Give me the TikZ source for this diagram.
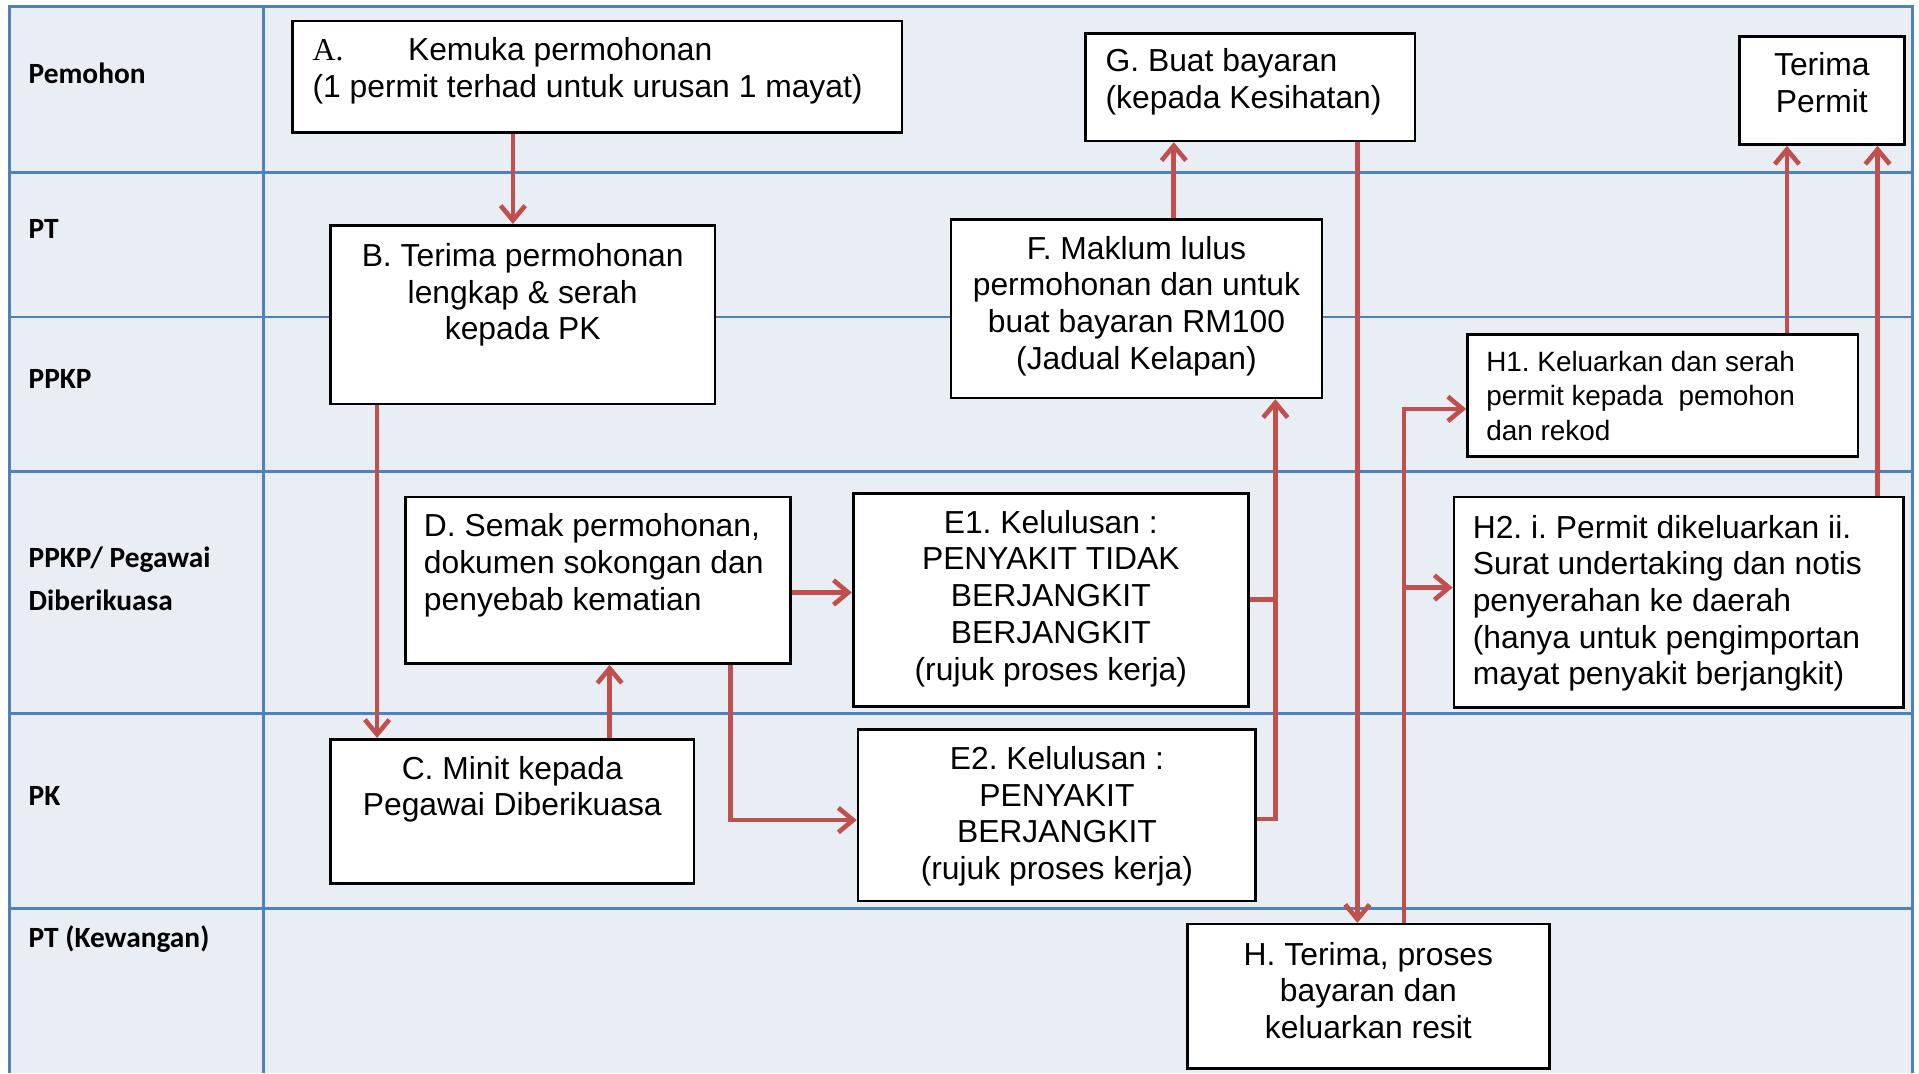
\documentclass[tikz,border=0pt]{standalone}
\usepackage{fontspec}
\setmainfont{Liberation Sans}
\newfontfamily\lanefont{Carlito}
\newfontfamily\letterfont{Liberation Serif}
\usepackage{tikz}
\usetikzlibrary{positioning,arrows.meta}
\frenchspacing

\definecolor{lanebg}{HTML}{E9EDF4}
\definecolor{laneline}{HTML}{4F81BD}
\definecolor{flowred}{HTML}{C0504D}

\begin{document}
\begin{tikzpicture}[
    x=1pt, y=-1pt,
    >={Straight Barb[length=6pt,width=10pt]},
    box/.style={rectangle, draw=black, line width=1.1pt, fill=white, inner sep=0pt, anchor=north west},
    txt/.style={inner sep=0pt, font=\fontsize{13pt}{15pt}\selectfont},
    ctxt/.style={txt, align=center},
    ltxt/.style={txt, align=left},
    lane/.style={anchor=west, inner sep=0pt, align=left,
        font=\lanefont\bfseries\fontsize{12pt}{17.5pt}\selectfont},
    flow/.style={draw=flowred, line width=1.9pt, ->},
    link/.style={draw=flowred, line width=1.9pt}
]
\useasboundingbox (0,0) rectangle (784,438.5);

% swimlanes
\fill[lanebg] (4,2.5) rectangle (781.5,438.5);
\draw[laneline, line width=1.25pt] (4,438.5) -- (4,2.5) -- (781.5,2.5) -- (781.5,438.5);
\draw[laneline, line width=1.25pt] (107.5,2.5) -- (107.5,438.5);
\foreach \y in {70.5,192.5,291.5,371}
    \draw[laneline, line width=1.25pt] (4,\y) -- (781.5,\y);
\draw[laneline, line width=0.7pt] (4,129.5) -- (781.5,129.5);

\foreach \y/\name/\label in {30/pemohon/Pemohon, 93.5/pt/PT, 155/ppkp/PPKP,
    236.5/ppkpd/{PPKP/ Pegawai\\Diberikuasa}, 325/pk/PK, 383.5/ptk/PT (Kewangan)}
    \node[lane] (lane-\name) at (11.5,\y) {\label};

% steps
\node[box, minimum width=249pt, minimum height=45.5pt] (A) at (119,8) {};
\node[box, minimum width=157pt, minimum height=73pt] (B) at (134.5,91.5) {};
\node[box, minimum width=148.5pt, minimum height=59pt] (C) at (134.5,301.5) {};
\node[box, minimum width=157.5pt, minimum height=68pt] (D) at (165,202.5) {};
\node[box, minimum width=161.5pt, minimum height=87pt] (E1) at (348,201) {};
\node[box, minimum width=162.5pt, minimum height=70pt] (E2) at (350,297.5) {};
\node[box, minimum width=151.5pt, minimum height=73pt] (F) at (388,89) {};
\node[box, minimum width=134.5pt, minimum height=44pt] (G) at (443,13) {};
\node[box, minimum width=67.5pt, minimum height=44pt] (T) at (710,14.5) {};
\node[box, minimum width=159.5pt, minimum height=50pt] (H1) at (599,136) {};
\node[box, minimum width=183.5pt, minimum height=86pt] (H2) at (593.5,202.5) {};
\node[box, minimum width=148pt, minimum height=59pt] (H) at (484.5,377) {};

% step texts
\node[ltxt, below right=7.2pt and 8.5pt of A.north west] (A-text)
    {\makebox[39pt][l]{\letterfont A.}Kemuka permohonan\\(1 permit terhad untuk urusan 1 mayat)};
\node[ctxt, below=7.7pt of B.north] (B-text)
    {B. Terima permohonan\\lengkap \& serah\\kepada PK};
\node[ctxt, below=7.2pt of C.north] (C-text)
    {C. Minit kepada\\Pegawai Diberikuasa};
\node[ltxt, below right=7.2pt and 8pt of D.north west] (D-text)
    {D. Semak permohonan,\\dokumen sokongan dan\\penyebab kematian};
\node[ctxt, below=7.2pt of E1.north] (E1-text)
    {E1. Kelulusan :\\PENYAKIT TIDAK\\BERJANGKIT\\BERJANGKIT\\(rujuk proses kerja)};
\node[ctxt, below=7.2pt of E2.north] (E2-text)
    {E2. Kelulusan :\\PENYAKIT\\BERJANGKIT\\(rujuk proses kerja)};
\node[ctxt, below=7.2pt of F.north] (F-text)
    {F. Maklum lulus\\permohonan dan untuk\\buat bayaran RM100\\(Jadual Kelapan)};
\node[ltxt, below right=6.7pt and 8.5pt of G.north west] (G-text)
    {G. Buat bayaran\\(kepada Kesihatan)};
\node[ctxt, below=6.7pt of T.north] (T-text)
    {Terima\\Permit};
\node[ltxt, below right=7.3pt and 8pt of H1.north west, font=\fontsize{11.4pt}{14pt}\selectfont] (H1-text)
    {H1. Keluarkan dan serah\\permit kepada\ \ pemohon\\dan rekod};
\node[ltxt, below right=7.7pt and 8pt of H2.north west] (H2-text)
    {H2. i. Permit dikeluarkan ii.\\Surat undertaking dan notis\\penyerahan ke daerah\\(hanya untuk pengimportan\\mayat penyakit berjangkit)};
\node[ctxt, below=7.7pt of H.north] (H-text)
    {H. Terima, proses\\bayaran dan\\keluarkan resit};

% flow
\draw[flow] ([xshift=-4pt]B.north |- A.south) -- ([xshift=-4pt]B.north);
\draw[flow] ([xshift=-59.5pt]B.south) -- ([xshift=-59.5pt]B.south |- C.north);
\draw[flow] ([xshift=39.75pt]C.north) -- ([xshift=39.75pt]C.north |- D.south);
\draw[flow] ([yshift=-5pt]D.east) -- ([yshift=-5pt]D.east -| E1.west);
\draw[flow] ([xshift=54.25pt]D.south) |- ([yshift=-2pt]E2.west);
\draw[link] (E1.east) -- ([xshift=56.75pt]F.south |- E1.east);
\draw[flow] ([yshift=-1.5pt]E2.east) -| ([xshift=56.75pt]F.south);
\draw[flow] ([xshift=15.25pt]F.north) -- ([xshift=15.25pt]F.north |- G.south);
\draw[flow] ([xshift=43.75pt]G.south) -- ([xshift=43.75pt]G.south |- H.north);
\draw[flow] ([xshift=14.5pt]H.north) |- ([yshift=-5.5pt]H1.west);
\draw[flow] ([xshift=14.5pt,yshift=6pt]H.north |- H2.west) -- ([yshift=6pt]H2.west);
\draw[flow] ([xshift=50.75pt]H1.north) -- ([xshift=50.75pt]H1.north |- T.south);
\draw[flow] ([xshift=81.25pt]H2.north) -- ([xshift=81.25pt]H2.north |- T.south);

\end{tikzpicture}
\end{document}
